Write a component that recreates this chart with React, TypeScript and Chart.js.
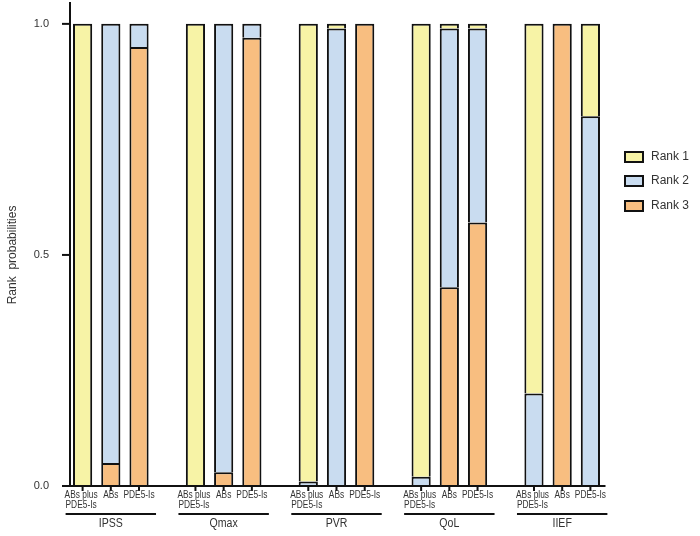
import React, { useEffect, useRef } from "react";
import { Chart, registerables } from "chart.js";

Chart.register(...registerables);

const groups = ["IPSS", "Qmax", "PVR", "QoL", "IIEF"];
const treatments = [["ABs plus", "PDE5-Is"], ["ABs"], ["PDE5-Is"]];

// values per bar, in order: group x treatment (15 bars)
const rank1 = [1, 0, 0, 1, 0, 0, 0.99, 0.01, 0, 0.98, 0.01, 0.01, 0.8, 0, 0.2];
const rank2 = [0, 0.95, 0.05, 0, 0.97, 0.03, 0.01, 0.99, 0, 0.02, 0.56, 0.42, 0.2, 0, 0.8];
const rank3 = [0, 0.05, 0.95, 0, 0.03, 0.97, 0, 0, 1, 0, 0.43, 0.57, 0, 1, 0];

const yTicks = [0, 0.5, 1.0];
const yTickLabels = ["0.0", "0.5", "1.0"];

const rankNames = ["Rank 1", "Rank 2", "Rank 3"];
const rankColors = ["#F7F3A6", "#C9DCF0", "#F8BE80"];

const FONT = "'Liberation Sans', Arial, sans-serif";

// build slots: 3 bars per group + 1 empty gap between groups
const slotLabels: string[] = [];
const slotBar: number[] = []; // index into bar arrays or -1
groups.forEach((g, gi) => {
  treatments.forEach((t, ti) => {
    slotLabels.push(g + "|" + t.join(" "));
    slotBar.push(gi * 3 + ti);
  });
  if (gi < groups.length - 1) {
    slotLabels.push("gap" + gi);
    slotBar.push(-1);
  }
});
const toSlots = (arr: number[]) =>
  slotBar.map((b) => (b < 0 ? null : arr[b] === 0 ? null : arr[b]));

const annotPlugin = {
  id: "annot",
  afterDraw(chart: any) {
    const ctx = chart.ctx as CanvasRenderingContext2D;
    const xs = chart.scales.x;
    const ys = chart.scales.y;
    const y0 = ys.getPixelForValue(0);
    ctx.save();
    ctx.strokeStyle = "#111";
    ctx.fillStyle = "#333";
    ctx.lineWidth = 2;
    // y axis line
    const axX = chart.chartArea.left + 1.5;
    ctx.beginPath();
    ctx.moveTo(axX, 2);
    ctx.lineTo(axX, y0 + 1);
    ctx.stroke();
    // y ticks
    ctx.font = "11px " + FONT;
    ctx.textAlign = "right";
    ctx.textBaseline = "middle";
    yTicks.forEach((v, i) => {
      const py = ys.getPixelForValue(v);
      ctx.beginPath();
      ctx.moveTo(62, py);
      ctx.lineTo(axX, py);
      ctx.stroke();
      ctx.fillText(yTickLabels[i], 49, py);
    });
    // x axis line
    ctx.beginPath();
    ctx.moveTo(62, y0);
    ctx.lineTo(chart.chartArea.right + 1, y0);
    ctx.stroke();
    // bar ticks and labels
    ctx.textAlign = "center";
    ctx.textBaseline = "middle";
    slotBar.forEach((b, si) => {
      if (b < 0) return;
      const px = xs.getPixelForValue(si);
      ctx.beginPath();
      ctx.moveTo(px, y0);
      ctx.lineTo(px, y0 + 5);
      ctx.stroke();
      const lines = treatments[b % 3];
      ctx.font = "11px " + FONT;
      lines.forEach((ln, li) => {
        const cx = px - (lines.length > 1 ? 1.5 : 0);
        ctx.save();
        ctx.translate(cx, y0 + 9 + li * 10);
        ctx.scale(0.76, 1);
        ctx.fillText(ln, 0, 0);
        ctx.restore();
      });
    });
    // group underlines and labels
    groups.forEach((g, gi) => {
      const firstSlot = gi * 4;
      const lastSlot = gi * 4 + 2;
      const xa = xs.getPixelForValue(firstSlot) - 17;
      const xb = xs.getPixelForValue(lastSlot) + 17;
      ctx.beginPath();
      ctx.moveTo(xa, y0 + 28);
      ctx.lineTo(xb, y0 + 28);
      ctx.stroke();
      ctx.save();
      ctx.font = "12px " + FONT;
      ctx.translate(xs.getPixelForValue(gi * 4 + 1), y0 + 38);
      ctx.scale(0.88, 1);
      ctx.fillText(g, 0, 0);
      ctx.restore();
    });
    // y title
    ctx.save();
    ctx.translate(13, ys.getPixelForValue(0.5));
    ctx.rotate(-Math.PI / 2);
    ctx.font = "12px " + FONT;
    ctx.textAlign = "center";
    ctx.textBaseline = "middle";
    ctx.fillText("Rank  probabilities", 0, 0);
    ctx.restore();
    // legend
    const legY = [157, 181, 206];
    rankNames.forEach((n, i) => {
      ctx.fillStyle = rankColors[i];
      ctx.fillRect(625, legY[i] - 5, 18, 10);
      ctx.strokeStyle = "#111";
      ctx.lineWidth = 2;
      ctx.strokeRect(625, legY[i] - 5, 18, 10);
      ctx.fillStyle = "#333";
      ctx.font = "12px " + FONT;
      ctx.textAlign = "left";
      ctx.textBaseline = "middle";
      ctx.fillText(n, 651, legY[i]);
    });
    ctx.restore();
  },
};

export default function App() {
  const ref = useRef<HTMLCanvasElement | null>(null);
  useEffect(() => {
    if (!ref.current) return;
    const common = {
      borderColor: "#111",
      borderWidth: 2,
      barPercentage: 0.68,
      categoryPercentage: 1,
    };
    const chart = new Chart(ref.current, {
      type: "bar",
      data: {
        labels: slotLabels,
        datasets: [
          { label: rankNames[2], data: toSlots(rank3), backgroundColor: rankColors[2], ...common },
          { label: rankNames[1], data: toSlots(rank2), backgroundColor: rankColors[1], ...common },
          { label: rankNames[0], data: toSlots(rank1), backgroundColor: rankColors[0], ...common },
        ],
      },
      options: {
        animation: false,
        responsive: false,
        layout: { padding: { left: 68.5, right: 95.5, top: 4, bottom: 50 } },
        plugins: { legend: { display: false }, tooltip: { enabled: false } },
        scales: {
          x: { stacked: true, display: false },
          y: { stacked: true, display: false, min: 0, max: 1.043 },
        },
      },
      plugins: [annotPlugin],
    });
    return () => chart.destroy();
  }, []);
  return (
    <div style={{ position: "fixed", left: 0, top: 0, width: 700, height: 536, background: "#fff" }}>
      <canvas ref={ref} width={700} height={536} style={{ width: 700, height: 536, display: "block" }} />
    </div>
  );
}
